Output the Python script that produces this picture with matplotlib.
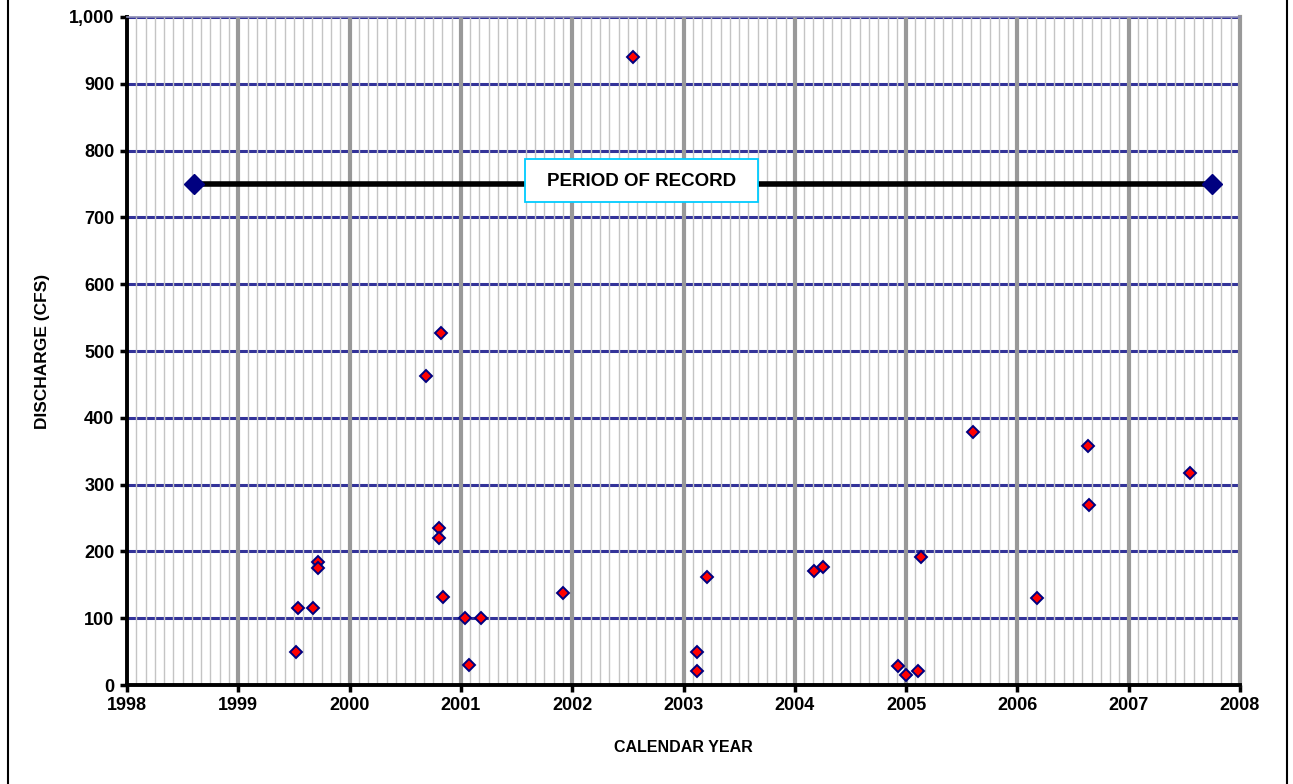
import matplotlib
matplotlib.use("Agg")
import matplotlib.pyplot as plt
from matplotlib.patches import Rectangle
from matplotlib.ticker import FuncFormatter
import numpy as np

# ---- data ----
sample_year = [1999.52, 1999.54, 1999.67, 1999.72, 1999.72, 2000.69, 2000.80, 2000.80,
               2000.82, 2000.84, 2001.04, 2001.07, 2001.18, 2001.92, 2002.55, 2003.12,
               2003.12, 2003.21, 2004.17, 2004.25, 2004.93, 2005.00, 2005.11, 2005.13,
               2005.60, 2006.18, 2006.63, 2006.64, 2007.55]
discharge = [50, 115, 115, 184, 175, 462, 235, 220,
             527, 131, 100, 30, 100, 138, 940, 50,
             21, 161, 170, 176, 29, 15, 21, 191,
             379, 130, 358, 269, 318]
record_year = [1998.6, 2007.75]
record_level = [750, 750]
year_ticks = list(range(1998, 2009))
discharge_ticks = list(range(0, 1001, 100))

plt.rcParams['font.family'] = ['Liberation Sans', 'DejaVu Sans']
plt.rcParams['font.weight'] = 'bold'

fig = plt.figure(figsize=(12.93, 7.84), dpi=100)
ax = fig.add_axes([127/1293, 1 - 685/784, (1240 - 127)/1293, (685 - 17)/784])

ax.set_xlim(1998, 2008)
ax.set_ylim(0, 1000)

# grid lines
for v in discharge_ticks[1:]:
    ax.axhline(v, color='#333399', lw=2.2, zorder=1)
months = np.arange(1998, 2008, 1/12)
for m in months:
    if abs(m - round(m)) > 1e-6:
        ax.axvline(m, color='#c4c4c4', lw=1.0, zorder=1.5)
for y in year_ticks[1:-1]:
    ax.axvline(y, color='#999999', lw=3, zorder=1.6)

# period of record line
ax.plot(record_year, record_level, color='black', lw=4, zorder=3,
        marker='D', markersize=10, markerfacecolor='#000080', markeredgecolor='#000080')

# data points
ax.plot(sample_year, discharge, linestyle='none', marker='D', markersize=6.4,
        markerfacecolor='#ff0000', markeredgecolor='#000080', markeredgewidth=1.4, zorder=4)

# period of record box
ax.add_patch(Rectangle((0.3576, 0.723), 0.2094, 0.064, transform=ax.transAxes,
                       facecolor='white', edgecolor='#00ccff', lw=1.3, zorder=5))
ax.text(0.4625, 0.753, 'PERIOD OF RECORD', transform=ax.transAxes, ha='center', va='center',
        fontsize=13.5, fontweight='bold', zorder=6)

# spines
for s in ['left', 'bottom']:
    ax.spines[s].set_linewidth(2.8)
    ax.spines[s].set_color('black')
ax.spines['right'].set_color('#999999')
ax.spines['right'].set_linewidth(3)
ax.spines['top'].set_color('#8c8cb4')
ax.spines['top'].set_linewidth(1.2)

ax.set_xticks(year_ticks)
ax.set_yticks(discharge_ticks)
ax.yaxis.set_major_formatter(FuncFormatter(lambda v, p: f'{int(v):,}'))
ax.tick_params(axis='both', direction='out', length=5, width=2.5, labelsize=13, pad=4)
for lab in ax.get_xticklabels() + ax.get_yticklabels():
    lab.set_fontweight('bold')

ax.set_xlabel('CALENDAR YEAR', fontsize=11.5, fontweight='bold', labelpad=18)
ax.set_ylabel('DISCHARGE (CFS)', fontsize=12.5, fontweight='bold', labelpad=14)

# outer frame
fig.patches.append(Rectangle((8/1293, -0.01), (1287 - 8)/1293, 1.02, transform=fig.transFigure,
                             fill=False, edgecolor='black', lw=1.5))

fig.savefig('out.png', dpi=100)
